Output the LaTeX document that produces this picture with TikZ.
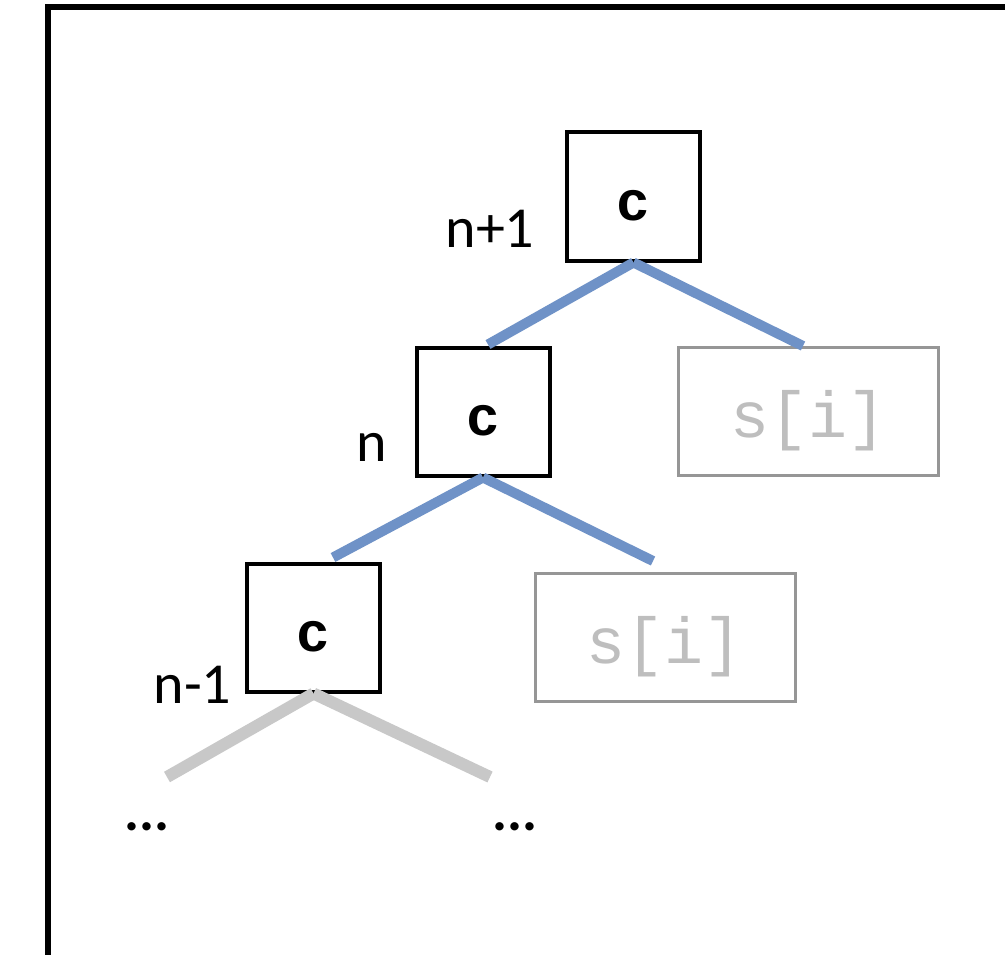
\documentclass[tikz,border=0pt]{standalone}
\usepackage{fontspec}
\newfontfamily\clbl{Carlito}
\newfontfamily\cmono{Liberation Mono}
\usetikzlibrary{calc}
\definecolor{linkblue}{RGB}{111,146,199}
\definecolor{linkgray}{RGB}{200,200,200}
\definecolor{boxgray}{RGB}{150,150,150}
\definecolor{textgray}{RGB}{190,190,190}
\tikzset{
  cbox/.style={draw=black, line width=4pt, fill=white, minimum width=133pt, minimum height=128pt, inner sep=0pt,
    label={[ctext, yshift=-9pt]center:c}},
  ctext/.style={font=\cmono\bfseries\fontsize{56}{56}\selectfont, text=black, inner sep=0pt},
  sbox/.style={draw=boxgray, line width=3pt, fill=white, minimum width=260pt, minimum height=128pt, inner sep=0pt,
    label={[stext, yshift=-9.5pt]center:s[i]}},
  stext/.style={font=\cmono\fontsize{65}{65}\selectfont, text=textgray, inner sep=0pt},
  lvl/.style={font=\clbl\fontsize{58}{58}\selectfont, inner sep=0pt},
  dots/.style={font=\clbl\bfseries\fontsize{56}{56}\selectfont, inner sep=0pt},
  bluelink/.style={draw=linkblue, line width=10pt, line cap=butt},
  graylink/.style={draw=linkgray, line width=12pt, line cap=butt},
  frame/.style={draw=black, line width=6pt, line join=miter}
}
\begin{document}
\begin{tikzpicture}[x=1pt, y=-1pt]
\useasboundingbox (0,0) rectangle (1005,955);
\clip (0,0) rectangle (1005,955);
\fill[white] (0,0) rectangle (1005,955);

% outer frame (cut off at right and bottom)
\coordinate (fbl) at (48,980);
\coordinate (ftl) at (48,7);
\coordinate (ftr) at (1030,7);
\draw[frame] (fbl) -- (ftl) -- (ftr);

% boxes
\node[cbox] (c1) at (633.5,196.5) {};
\node[cbox] (c2) at (483,411.5) {};
\node[cbox] (c3) at (313.5,627.5) {};
\node[sbox] (s1) at (808.5,411.5) {};
\node[sbox] (s2) at (665,637.5) {};

% level labels
\node[lvl] (l1) at (490,229) {n+1};
\node[lvl] (l2) at (371.5,447) {n};
\node[lvl] (l3) at (192.5,684.5) {n-1};

% free ends of the grey branches
\coordinate (g1) at (167,777);
\coordinate (g2) at (490,777);
\node[dots] (d1) at (147,827) {...};
\node[dots] (d2) at (515,827) {...};

% connectors
\draw[bluelink] (c1.south) -- ($(c2.north)+(5,-1)$);
\draw[bluelink] (c1.south) -- ($(s1.north)+(-5.5,0)$);
\draw[bluelink] (c2.south) -- ($(c3.north)+(19.5,-4)$);
\draw[bluelink] (c2.south) -- ($(s2.north)+(-12,-11)$);
\draw[graylink] (c3.south) -- (g1);
\draw[graylink] (c3.south) -- (g2);
\end{tikzpicture}
\end{document}
